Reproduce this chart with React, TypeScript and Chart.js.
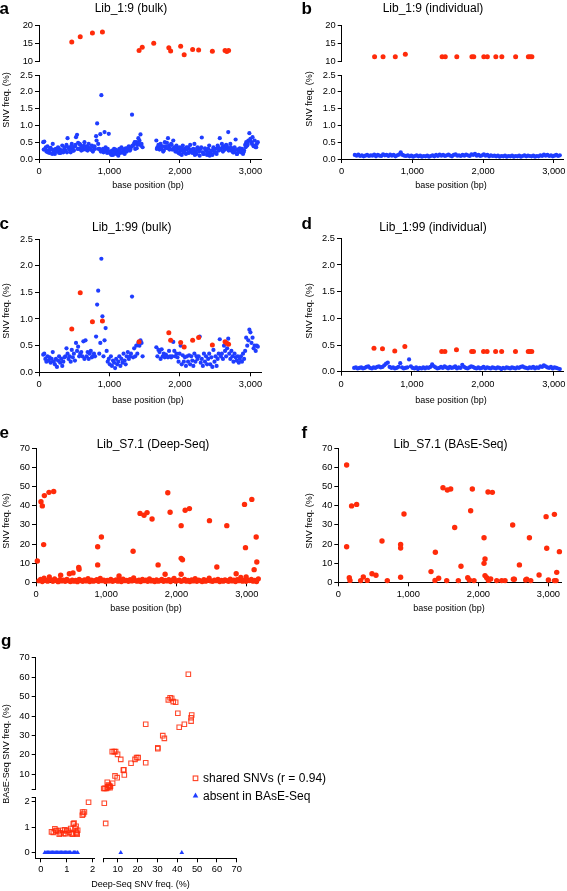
import React, { useEffect, useRef } from "react";
import { Chart, registerables } from "chart.js";
Chart.register(...registerables);

const FONT = '"Liberation Sans", Arial, Helvetica, sans-serif';
const RED = "#ff2b0a";
const BLUE = "#1f3dff";
const TICK_SIZE = 9.3;

// ---------- panels a-d : library 1 ----------
const SNV_POS = [465, 585, 758, 900, 1420, 1465, 1628, 1842, 1868, 2010, 2060, 2180, 2265, 2460, 2640, 2665, 2690];
const A_RED = [15.5, 16.9, 18.0, 18.25, 13.1, 14.0, 15.1, 13.9, 13.0, 14.3, 11.9, 13.4, 13.25, 12.9, 13.1, 12.8, 13.1];
const B_RED = [11.4, 11.4, 11.4, 12.1, 11.4, 11.4, 11.4, 11.4, 11.4, 11.4, 11.4, 11.4, 11.4, 11.4, 11.4, 11.4, 11.4];
const C_RED = [0.81, 1.49, 0.95, 0.96, 0.575, null, null, 0.74, 0.6, 0.56, 0.475, 0.6, 0.655, 0.51, 0.575, 0.545, 0.525];
const D_RED = [0.44, 0.43, 0.39, 0.47, 0.38, 0.38, 0.41, 0.38, 0.38, 0.38, 0.38, 0.38, 0.38, 0.38, 0.38, 0.38, 0.38];

const BULK_POS = [
  60, 75, 90, 105, 120, 135, 150, 165, 180, 195,
  210, 225, 240, 255, 270, 285, 300, 315, 330, 345,
  360, 375, 390, 405, 420, 435, 450, 465, 480, 495,
  510, 525, 540, 555, 570, 585, 600, 615, 630, 645,
  660, 675, 690, 705, 720, 735, 750, 765, 780, 795,
  810, 825, 840, 855, 870, 885, 900, 915, 930, 945,
  960, 975, 990, 1005, 1020, 1035, 1050, 1065, 1080, 1095,
  1110, 1125, 1140, 1155, 1170, 1185, 1200, 1215, 1230, 1245,
  1260, 1275, 1290, 1305, 1320, 1335, 1350, 1365, 1380, 1395,
  1410, 1425, 1440, 1455, 1470,
  1665, 1680, 1695, 1710, 1725, 1740, 1755, 1770, 1785, 1800,
  1815, 1830, 1845, 1860, 1875, 1890, 1905, 1920, 1935, 1950,
  1965, 1980, 1995, 2010, 2025, 2040, 2055, 2070, 2085, 2100,
  2115, 2130, 2145, 2160, 2175, 2190, 2205, 2220, 2235, 2250,
  2265, 2280, 2295, 2310, 2325, 2340, 2355, 2370, 2385, 2400,
  2415, 2430, 2445, 2460, 2475, 2490, 2505, 2520, 2535, 2550,
  2565, 2580, 2595, 2610, 2625, 2640, 2655, 2670, 2685, 2700,
  2715, 2730, 2745, 2760, 2775, 2790, 2805, 2820, 2835, 2850,
  2865, 2880, 2895, 2910, 2925, 2940, 2955, 2970, 2985, 3000,
  3015, 3030, 3045, 3060, 3075, 3090, 3105,
];
const A_BLUE = [
  0.5, 0.52, 0.3, 0.22, 0.38, 0.25, 0.18, 0.33, 0.28, 0.45,
  0.2, 0.15, 0.3, 0.25, 0.35, 0.18, 0.28, 0.22, 0.4, 0.2,
  0.3, 0.25, 0.42, 0.62, 0.35, 0.28, 0.2, 0.45, 0.3, 0.25,
  0.38, 0.65, 0.72, 0.48, 0.3, 0.42, 0.25, 0.35, 0.28, 0.5,
  0.3, 0.38, 0.25, 0.45, 0.32, 0.28, 0.4, 0.22, 0.35, 0.3,
  0.68, 1.06, 0.45, 0.3, 0.74, 1.9, 0.25, 0.2, 0.8, 0.35,
  0.22, 0.3, 0.75, 0.18, 0.15, 0.25, 0.12, 0.3, 0.2, 0.15,
  0.25, 0.1, 0.3, 0.18, 0.35, 0.2, 0.28, 0.15, 0.32, 0.22,
  0.3, 0.38, 0.25, 0.35, 1.32, 0.4, 0.45, 0.3, 0.5, 0.42,
  0.62, 0.55, 0.73, 0.45, 0.35,
  0.55, 0.35, 0.42, 0.28, 0.45, 0.3, 0.38, 0.25, 0.5, 0.33,
  0.48, 0.62, 0.4, 0.3, 0.45, 0.28, 0.55, 0.35, 0.22, 0.4,
  0.3, 0.18, 0.35, 0.25, 0.12, 0.4, 0.2, 0.3, 0.15, 0.28,
  0.35, 0.2, 0.42, 0.25, 0.18, 0.3, 0.45, 0.22, 0.15, 0.35,
  0.28, 0.1, 0.3, 0.64, 0.2, 0.15, 0.32, 0.25, 0.12, 0.3,
  0.4, 0.18, 0.25, 0.12, 0.35, 0.2, 0.3, 0.15, 0.4, 0.25,
  0.62, 0.3, 0.45, 0.22, 0.38, 0.28, 0.42, 0.35, 0.8, 0.3,
  0.45, 0.25, 0.3, 0.2, 0.35, 0.58, 0.15, 0.28, 0.22, 0.32,
  0.2, 0.3, 0.15, 0.25, 0.42, 0.5, 0.4, 0.55, 0.77, 0.6,
  0.5, 0.65, 0.38, 0.55, 0.35, 0.45, 0.5,
];
// extra, in-between positions of the denser 1:9 bulk library
const A_EXTRA_POS = [
  67, 97, 127, 157, 187, 217, 247, 277, 307, 337,
  367, 397, 427, 457, 487, 517, 547, 577, 607, 637,
  667, 697, 727, 757, 787, 817, 847, 877, 907, 937,
  967, 997, 1027, 1057, 1087, 1117, 1147, 1177, 1207, 1237,
  1267, 1297, 1327, 1357, 1387, 1417, 1447,
  1672, 1702, 1732, 1762, 1792, 1822, 1852, 1882, 1912, 1942,
  1972, 2002, 2032, 2062, 2092, 2122, 2152, 2182, 2212, 2242,
  2272, 2302, 2332, 2362, 2392, 2422, 2452, 2482, 2512, 2542,
  2572, 2602, 2632, 2662, 2692, 2722, 2752, 2782, 2812, 2842,
  2872, 2902, 2932, 2962, 2992, 3022, 3052, 3082,
];
const A_EXTRA_VAL = [
  0.28, 0.35, 0.2, 0.3, 0.15, 0.28, 0.22, 0.32, 0.18, 0.25,
  0.35, 0.2, 0.3, 0.38, 0.25, 0.42, 0.3, 0.45, 0.35, 0.4,
  0.28, 0.35, 0.3, 0.25, 0.38, 0.55, 0.3, 0.22, 0.3, 0.25,
  0.18, 0.22, 0.12, 0.2, 0.28, 0.15, 0.22, 0.3, 0.18, 0.25,
  0.35, 0.28, 0.4, 0.5, 0.32, 0.45, 0.4,
  0.3, 0.4, 0.35, 0.22, 0.38, 0.32, 0.28, 0.42, 0.3, 0.25,
  0.2, 0.15, 0.3, 0.22, 0.35, 0.18, 0.28, 0.25, 0.12, 0.3,
  0.22, 0.35, 0.15, 0.28, 0.2, 0.1, 0.25, 0.3, 0.18, 0.35,
  0.28, 0.35, 0.3, 0.4, 0.25, 0.35, 0.2, 0.25, 0.15, 0.3,
  0.25, 0.2, 0.35, 0.45, 0.55, 0.45, 0.4, 0.35,
];
const C_BLUE = [
  0.33, 0.35, 0.25, 0.2, 0.3, 0.22, 0.28, 0.18, 0.25, 0.38,
  0.2, 0.15, 0.25, 0.1, 0.22, 0.3, 0.18, 0.25, 0.12, 0.2,
  0.28, 0.3, 0.45, 0.35, 0.25, 0.3, 0.2, 0.42, 0.28, 0.35,
  0.22, 0.55, 0.4, 0.48, 0.3, 0.35, 0.38, 0.3, 0.58, 0.25,
  0.6, 0.3, 0.38, 0.25, 0.35, 0.4, 0.28, 0.3, 0.35, 0.3,
  0.67, 1.27, 1.53, 0.35, 0.55, 2.13, 1.05, 0.3, 0.6, 0.83,
  0.4, 0.2, 0.25, 0.15, 0.3, 0.12, 0.22, 0.18, 0.08, 0.25,
  0.15, 0.2, 0.3, 0.12, 0.25, 0.18, 0.35, 0.22, 0.15, 0.3,
  0.38, 0.25, 0.3, 0.35, 1.42, 0.28, 0.45, 0.3, 0.5, 0.35,
  0.55, 0.5, 0.6, 0.55, 0.3,
  0.47, 0.3, 0.42, 0.38, 0.25, 0.43, 0.3, 0.35, 0.28, 0.33,
  0.3, 0.28, 0.4, 0.3, 0.28, 0.3, 0.57, 0.4, 0.3, 0.35,
  0.28, 0.2, 0.35, 0.5, 0.15, 0.32, 0.2, 0.28, 0.12, 0.3,
  0.2, 0.32, 0.15, 0.3, 0.22, 0.12, 0.35, 0.2, 0.3, 0.25,
  0.3, 0.67, 0.18, 0.25, 0.12, 0.35, 0.2, 0.3, 0.15, 0.25,
  0.35, 0.15, 0.28, 0.1, 0.42, 0.2, 0.3, 0.12, 0.25, 0.35,
  0.62, 0.3, 0.35, 0.25, 0.5, 0.4, 0.3, 0.45, 0.63, 0.35,
  0.25, 0.4, 0.3, 0.2, 0.35, 0.28, 0.22, 0.3, 0.18, 0.25,
  0.3, 0.2, 0.35, 0.25, 0.4, 0.65, 0.5, 0.6, 0.8, 0.75,
  0.55, 0.65, 0.45, 0.5, 0.4, 0.5, 0.48,
];

const IND_POS = [
  185, 210, 235, 260, 285, 310, 335, 360, 385, 410,
  435, 460, 485, 510, 535, 560, 585, 610, 635, 660,
  685, 710, 735, 760, 785, 810, 835, 860, 885, 910,
  935, 960, 985, 1010, 1035, 1060, 1085, 1110, 1135, 1160,
  1185, 1210, 1235, 1260, 1285, 1310, 1335, 1360, 1385, 1410,
  1435, 1460, 1485, 1510, 1535, 1560, 1585, 1610, 1635, 1660,
  1685, 1710, 1735, 1760, 1785, 1810, 1835, 1860, 1885, 1910,
  1935, 1960, 1985, 2010, 2035, 2060, 2085, 2110, 2135, 2160,
  2185, 2210, 2235, 2260, 2285, 2310, 2335, 2360, 2385, 2410,
  2435, 2460, 2485, 2510, 2535, 2560, 2585, 2610, 2635, 2660,
  2685, 2710, 2735, 2760, 2785, 2810, 2835, 2860, 2885, 2910,
  2935, 2960, 2985, 3010, 3035, 3060, 3085,
];
const B_BLUE = [
  0.12, 0.1, 0.13, 0.09, 0.11, 0.08, 0.1, 0.12, 0.09, 0.11,
  0.1, 0.13, 0.08, 0.12, 0.1, 0.09, 0.14, 0.11, 0.12, 0.09,
  0.13, 0.1, 0.12, 0.08, 0.11, 0.13, 0.2, 0.12, 0.1, 0.09,
  0.11, 0.08, 0.1, 0.07, 0.09, 0.11, 0.08, 0.1, 0.07, 0.09,
  0.08, 0.1, 0.07, 0.09, 0.11, 0.08, 0.12, 0.09, 0.13, 0.1,
  0.12, 0.09, 0.11, 0.13, 0.1, 0.08, 0.12, 0.14, 0.1, 0.11,
  0.09, 0.12, 0.1, 0.13, 0.11, 0.09, 0.14, 0.12, 0.15, 0.1,
  0.12, 0.09, 0.11, 0.14, 0.1, 0.12, 0.08, 0.11, 0.09, 0.1,
  0.08, 0.1, 0.07, 0.09, 0.08, 0.1, 0.07, 0.09, 0.08, 0.1,
  0.07, 0.09, 0.08, 0.1, 0.07, 0.09, 0.11, 0.08, 0.1, 0.09,
  0.08, 0.1, 0.07, 0.09, 0.08, 0.11, 0.09, 0.13, 0.1, 0.12,
  0.09, 0.11, 0.08, 0.1, 0.12, 0.09, 0.11,
];
const D_BLUE = [
  0.07, 0.08, 0.06, 0.07, 0.08, 0.06, 0.07, 0.09, 0.1, 0.07,
  0.06, 0.08, 0.07, 0.09, 0.1, 0.08, 0.09, 0.12, 0.15, 0.17,
  0.09, 0.07, 0.08, 0.06, 0.07, 0.09, 0.16, 0.08, 0.06, 0.07,
  0.08, 0.23, 0.1, 0.07, 0.06, 0.08, 0.05, 0.07, 0.06, 0.08,
  0.06, 0.08, 0.07, 0.09, 0.14, 0.1, 0.08, 0.06, 0.07, 0.09,
  0.07, 0.1, 0.08, 0.06, 0.09, 0.07, 0.08, 0.1, 0.06, 0.08,
  0.07, 0.13, 0.09, 0.07, 0.06, 0.08, 0.1, 0.09, 0.07, 0.06,
  0.08, 0.06, 0.07, 0.09, 0.06, 0.08, 0.07, 0.06, 0.08, 0.07,
  0.06, 0.08, 0.07, 0.05, 0.07, 0.06, 0.08, 0.07, 0.06, 0.08,
  0.07, 0.06, 0.08, 0.07, 0.09, 0.1, 0.08, 0.07, 0.06, 0.08,
  0.07, 0.09, 0.06, 0.08, 0.07, 0.1, 0.09, 0.12, 0.1, 0.08,
  0.07, 0.09, 0.06, 0.08, 0.07, 0.06, 0.05,
];

// ---------- panels e-f : Lib_S7.1 ----------
const E_HIGH_POS = [19, 71, 90, 109, 119, 185, 252, 351, 475, 527, 608, 613, 878, 878, 931, 1182, 1382, 1481, 1538, 1581, 1652, 1738, 1838, 1876, 1909, 2066, 2066, 2085, 2066, 2123, 2184, 2469, 2574, 2716, 2849, 2968, 2982, 2991, 3072, 3105, 3134, 3143];
const E_HIGH_VAL = [11.1, 42.1, 39.9, 19.7, 45.3, 47, 47.4, 3.7, 4.5, 4.9, 7.8, 6.8, 18.6, 9.1, 23.7, 3.3, 16.2, 36, 35, 36.4, 33.1, 9.1, 4.2, 46.8, 36.6, 29.6, 12.5, 11.8, 4.2, 37.6, 38.5, 32.2, 8, 29.6, 4.5, 40.7, 18.1, 2.8, 43.3, 6.6, 23.7, 10.6];
const E_BASE_POS = [
  40, 65, 90, 115, 140, 165, 190, 215, 240, 265,
  290, 315, 340, 365, 390, 415, 440, 465, 490, 515,
  540, 565, 590, 615, 640, 665, 690, 715, 740, 765,
  790, 815, 840, 865, 890, 915, 940, 965, 990, 1015,
  1040, 1065, 1090, 1115, 1140, 1165, 1190, 1215, 1240, 1265,
  1290, 1315, 1340, 1365, 1390, 1415, 1440, 1465, 1490, 1515,
  1540, 1565, 1590, 1615, 1640, 1665, 1690, 1715, 1740, 1765,
  1790, 1815, 1840, 1865, 1890, 1915, 1940, 1965, 1990, 2015,
  2040, 2065, 2090, 2115, 2140, 2165, 2190, 2215, 2240, 2265,
  2290, 2315, 2340, 2365, 2390, 2415, 2440, 2465, 2490, 2515,
  2540, 2565, 2590, 2615, 2640, 2665, 2690, 2715, 2740, 2765,
  2790, 2815, 2840, 2865, 2890, 2915, 2940, 2965, 2990, 3015,
  3040, 3065, 3090, 3115, 3140, 3165,
];
const E_BASE_VAL = [
  0.8, 1.5, 0.4, 2.2, 1.0, 0.6, 2.8, 1.2, 0.5, 1.8,
  0.9, 0.3, 1.4, 0.7, 1.1, 0.5, 1.6, 0.8, 0.4, 1.2,
  0.6, 1.0, 0.3, 1.5, 0.9, 0.5, 1.3, 0.7, 1.9, 0.4,
  1.1, 0.6, 0.9, 1.4, 0.5, 2.0, 0.8, 1.2, 0.4, 1.0,
  0.7, 1.5, 0.5, 0.9, 1.3, 0.6, 1.1, 0.4, 1.7, 0.8,
  1.0, 0.5, 1.4, 0.7, 2.3, 0.9, 0.6, 1.2, 0.4, 1.5,
  0.8, 1.1, 0.5, 1.8, 0.7, 1.0, 0.4, 1.3, 0.6, 0.9,
  1.6, 0.5, 1.0, 0.7, 1.4, 0.4, 1.1, 2.0, 0.6, 0.9,
  1.2, 0.5, 0.8, 1.5, 0.6, 1.0, 0.4, 1.3, 0.7, 1.9,
  0.5, 1.1, 0.8, 0.4, 1.4, 0.6, 1.0, 2.2, 0.7, 0.5,
  1.2, 0.8, 1.6, 0.4, 1.0, 0.6, 1.3, 0.9, 0.5, 1.7,
  0.7, 1.1, 0.4, 1.4, 0.8, 2.6, 0.6, 1.0, 0.5, 1.2,
  0.9, 1.5, 0.6, 1.0, 0.4, 1.8,
];
const F_POS = [119, 119, 157, 167, 190, 262, 319, 357, 414, 481, 538, 624, 700, 890, 890, 890, 938, 1324, 1386, 1381, 1433, 1495, 1557, 1605, 1548, 1662, 1752, 1714, 1848, 1871, 1890, 1914, 1938, 2081, 2081, 2095, 2095, 2119, 2138, 2200, 2143, 2176, 2262, 2333, 2381, 2490, 2500, 2514, 2586, 2676, 2690, 2729, 2748, 2867, 2967, 2976, 3000, 3086, 3086, 3110, 3119, 3157];
const F_VAL = [61.3, 18.6, 2.4, 1, 39.9, 40.7, 0.9, 2.8, 1, 4.5, 3.7, 21.6, 0.9, 19.8, 17.9, 2.6, 35.7, 5.6, 15.7, 1, 2.1, 49.4, 48.2, 48.7, 0.9, 28.6, 8.4, 0.9, 2.4, 1.2, 37.4, 48.7, 0.9, 23.3, 9.9, 12.2, 3.5, 2.4, 47.2, 47, 1, 1.7, 0.9, 0.9, 0.9, 29.9, 1.6, 1.6, 9.1, 1.2, 1.6, 23.3, 0.9, 3.8, 34.3, 17.8, 1.2, 35.5, 0.9, 0.9, 5.2, 16];

// ---------- panel g ----------
const G_SHARED_DEEP = [
  0.41, 0.54, 0.57, 0.67, 0.71, 0.83, 0.96, 0.99, 1.05, 1.15, 1.22, 1.28, 1.25, 1.36, 1.38, 1.42, 1.4, 1.36, 1.6, 1.61, 1.68, 1.64, 1.84, 0.48, 0.6, 0.75, 0.88, 1.1, 1.18, 1.32, 0.92,
  3.2, 3.9,
  45.6, 35.5, 36.4, 37.2, 38, 39.2, 40.3, 41, 43.6, 47.3, 47, 47, 24.1, 32.7, 33.5, 30.2, 30.2, 24.1, 19.5, 20.3, 18.7, 16.7, 12.8, 13.1, 13.3, 11.5, 9.9, 8.2, 7.2, 8.9, 9.7, 8.6, 7.4, 4.7, 5.2, 5.6, 6.1, 3.5, 4.3, 2.9, 5, 5.8, 6.3,
];
const G_SHARED_BASE = [
  0.82, 0.94, 0.85, 0.85, 0.73, 0.88, 0.75, 0.85, 0.88, 0.95, 0.73, 1.16, 1.13, 1.04, 0.77, 0.88, 0.73, 0.82, 1.47, 1.6, 1.6, 1.52, 1.98, 0.8, 0.88, 0.78, 0.75, 0.8, 0.75, 0.95, 0.9,
  1.94, 1.15,
  61.5, 48.3, 49.4, 49.1, 47.4, 47.1, 41.4, 34.2, 35.8, 40.5, 39.1, 37.4, 35.8, 29.9, 28.5, 23.7, 23.2, 16, 18.6, 18.6, 17.7, 15.7, 12.2, 12.4, 9.7, 17.7, 20.3, 21.7, 21.7, 21.7, 8.3, 9.2, 5.4, 5.9, 4.5, 4.3, 3.1, 2.8, 2.8, 2.7, 3.3, 3.6, 3.9,
];
const G_ABSENT_DEEP = [0.15, 0.2, 0.25, 0.3, 0.35, 0.4, 0.45, 0.5, 0.55, 0.6, 0.65, 0.7, 0.75, 0.8, 0.85, 0.9, 0.95, 1.0, 1.05, 1.1, 1.15, 1.25, 1.3, 1.35, 1.42, 11.5, 42.3];
const G_ABSENT_BASE = [0, 0, 0, 0, 0, 0, 0, 0, 0, 0, 0, 0, 0, 0, 0, 0, 0, 0, 0, 0, 0, 0, 0, 0, 0, 0, 0];

const POS_TICKS = [0, 1000, 2000, 3000];
const LOW_TICKS = [0, 0.5, 1, 1.5, 2, 2.5];
const HIGH_TICKS = [10, 15, 20];
const PCT_TICKS = [0, 10, 20, 30, 40, 50, 60, 70];
const G_SMALL_TICKS = [0, 1, 2];
const G_BIG_TICKS = [10, 20, 30, 40, 50, 60, 70];

// ranges of the broken axes in panel g
const GX_L: [number, number] = [-0.2, 2.05];
const GX_R: [number, number] = [2.7, 70];
const GY_L: [number, number] = [-0.22, 2.16];
const GY_U: [number, number] = [2.47, 70];

// ---------- helpers ----------
type Pt = { x: number; y: number };
const toPts = (xs: number[], ys: (number | null)[]): Pt[] =>
  xs.map((x, i) => ({ x, y: ys[i] as number })).filter((p) => p.y !== null && p.y !== undefined);

const comma = (v: number) => v.toLocaleString("en-US");
const fixed1 = (v: number) => v.toFixed(1);
const int = (v: number) => String(v);
const noBreak = (v: number) => (Number.isInteger(v) ? String(v) : "");

const dots = (data: Pt[], color: string, r: number) => ({
  type: "scatter",
  data,
  showLine: false,
  pointStyle: "circle",
  pointRadius: r,
  pointHoverRadius: r,
  backgroundColor: color,
  borderColor: color,
  borderWidth: 0,
  clip: false,
});

type Axis = { min: number; max: number; ticks?: number[]; fmt?: (v: number) => string };
type Spec = { key: string; area: [number, number, number, number]; x: Axis; y: Axis; datasets: any[]; xPad?: number };

const PAD_L = 45, PAD_R = 25, PAD_T = 12, PAD_B = 24;

function SubChart({ spec }: { spec: Spec }) {
  const ref = useRef<HTMLCanvasElement | null>(null);
  const [l, t, r, b] = spec.area;
  const cl = Math.floor(l) - PAD_L;
  const ct = Math.floor(t) - PAD_T;
  const W = Math.ceil(r) + PAD_R - cl;
  const H = Math.ceil(b) + PAD_B - ct;
  useEffect(() => {
    const left = l - cl, top = t - ct, right = W - (r - cl), bottom = H - (b - ct);
    const showX = !!spec.x.ticks, showY = !!spec.y.ticks;
    const axis = (ax: Axis, isX: boolean): any => {
      const o: any = {
        type: "linear",
        min: ax.min,
        max: ax.max,
        display: !!ax.ticks,
        ticks: {
          callback: (v: any) => (ax.fmt ? ax.fmt(Number(v)) : String(v)),
          autoSkip: false,
          maxRotation: 0,
          minRotation: 0,
          padding: isX ? spec.xPad ?? 3 : 2,
          color: "#000",
          font: { size: TICK_SIZE, family: FONT },
        },
        grid: { display: true, drawOnChartArea: false, drawTicks: true, tickLength: 4, color: "#000", lineWidth: 1 },
        border: { display: true, color: "#000", width: 1 },
      };
      if (ax.ticks) {
        const tk = ax.ticks;
        o.afterBuildTicks = (s: any) => {
          s.ticks = tk.map((v) => ({ value: v }));
        };
        o.afterFit = (s: any) => {
          if (isX) s.height = bottom;
          else s.width = left;
        };
      }
      return o;
    };
    const chart = new Chart(ref.current as HTMLCanvasElement, {
      type: "scatter",
      data: { datasets: spec.datasets },
      options: {
        responsive: false,
        maintainAspectRatio: false,
        animation: false,
        events: [],
        layout: {
          autoPadding: false,
          padding: { left: showY ? 0 : left, right, top, bottom: showX ? 0 : bottom },
        },
        plugins: { legend: { display: false }, tooltip: { enabled: false }, title: { display: false } },
        scales: { x: axis(spec.x, true), y: axis(spec.y, false) },
      },
    } as any);
    return () => chart.destroy();
  }, []);
  return (
    <canvas
      ref={ref}
      width={W}
      height={H}
      style={{ position: "absolute", left: cl, top: ct, width: W, height: H }}
    />
  );
}

type TProps = { x: number; y: number; s: string; size?: number; bold?: boolean; rot?: boolean; left?: boolean };
function T({ x, y, s, size = 9, bold = false, rot = false, left = false }: TProps) {
  const tr = left ? "translate(0,-50%)" : rot ? "translate(-50%,-50%) rotate(-90deg)" : "translate(-50%,-50%)";
  return (
    <div
      style={{
        position: "absolute",
        left: x,
        top: y,
        transform: tr,
        fontSize: size,
        lineHeight: `${size}px`,
        fontFamily: FONT,
        fontWeight: bold ? "bold" : "normal",
        color: "#000",
        whiteSpace: "nowrap",
      }}
    >
      {s}
    </div>
  );
}

export default function App() {
  const aRed = toPts(SNV_POS, A_RED);
  const bRed = toPts(SNV_POS, B_RED);
  const cRed = toPts(SNV_POS, C_RED);
  const dRed = toPts(SNV_POS, D_RED);
  const aBlue = toPts(BULK_POS, A_BLUE).concat(toPts(A_EXTRA_POS, A_EXTRA_VAL));
  const cBlue = toPts(BULK_POS, C_BLUE);
  const bBlue = toPts(IND_POS, B_BLUE);
  const dBlue = toPts(IND_POS, D_BLUE);
  const eHigh = toPts(E_HIGH_POS, E_HIGH_VAL);
  const eBase = toPts(E_BASE_POS, E_BASE_VAL);
  const fPts = toPts(F_POS, F_VAL);
  const shared = toPts(G_SHARED_DEEP, G_SHARED_BASE);
  const absent = toPts(G_ABSENT_DEEP, G_ABSENT_BASE);
  const inBox = (p: Pt, xr: [number, number], yr: [number, number]) =>
    p.x >= xr[0] && p.x <= xr[1] && p.y >= yr[0] && p.y <= yr[1];

  const squares = (data: Pt[]) => ({
    type: "scatter",
    data,
    showLine: false,
    pointStyle: "rect",
    pointRadius: 3.2,
    pointHoverRadius: 3.2,
    backgroundColor: "rgba(0,0,0,0)",
    borderColor: "rgba(255,43,10,0.85)",
    borderWidth: 1.1,
    clip: false,
  });
  const tris = (data: Pt[]) => ({
    type: "scatter",
    data,
    showLine: false,
    pointStyle: "triangle",
    pointRadius: 2.7,
    pointHoverRadius: 2.7,
    backgroundColor: BLUE,
    borderColor: BLUE,
    borderWidth: 0,
    clip: false,
  });
  const gDs = (xr: [number, number], yr: [number, number]) => [
    squares(shared.filter((p) => inBox(p, xr, yr))),
    tris(absent.filter((p) => inBox(p, xr, yr))),
  ];

  const specs: Spec[] = [
    { key: "aTop", area: [39, 25.7, 261, 61.7], x: { min: 0, max: 3150 }, y: { min: 10, max: 20, ticks: HIGH_TICKS, fmt: int }, datasets: [dots(aRed, RED, 2.5)] },
    { key: "aBot", area: [39, 75, 261, 159], x: { min: 0, max: 3150, ticks: POS_TICKS, fmt: comma }, y: { min: 0, max: 2.5, ticks: LOW_TICKS, fmt: fixed1 }, datasets: [dots(aBlue, BLUE, 2.1)] },
    { key: "bTop", area: [341.7, 25.7, 563, 61.7], x: { min: 0, max: 3130 }, y: { min: 10, max: 20, ticks: HIGH_TICKS, fmt: int }, datasets: [dots(bRed, RED, 2.5)] },
    { key: "bBot", area: [341.7, 75, 563, 159], x: { min: 0, max: 3130, ticks: POS_TICKS, fmt: comma }, y: { min: 0, max: 2.5, ticks: LOW_TICKS, fmt: fixed1 }, datasets: [dots(bBlue, BLUE, 2.1)] },
    { key: "c", area: [39, 239, 261, 372.3], x: { min: 0, max: 3150, ticks: POS_TICKS, fmt: comma }, y: { min: 0, max: 2.5, ticks: LOW_TICKS, fmt: fixed1 }, datasets: [dots(cRed, RED, 2.5), dots(cBlue, BLUE, 2.1)] },
    { key: "d", area: [341, 238.3, 563, 371.7], x: { min: 0, max: 3130, ticks: POS_TICKS, fmt: comma }, y: { min: 0, max: 2.5, ticks: LOW_TICKS, fmt: fixed1 }, datasets: [dots(dRed, RED, 2.5), dots(dBlue, BLUE, 2.1)] },
    { key: "e", area: [36, 448.3, 258, 582.3], x: { min: 0, max: 3160, ticks: POS_TICKS, fmt: comma }, y: { min: 0, max: 70, ticks: PCT_TICKS, fmt: int }, datasets: [dots(eHigh, RED, 2.7), dots(eBase, RED, 2.6)] },
    { key: "f", area: [338.3, 448.3, 561.7, 582.3], x: { min: 0, max: 3190, ticks: POS_TICKS, fmt: comma }, y: { min: 0, max: 70, ticks: PCT_TICKS, fmt: int }, datasets: [dots(fPts, RED, 2.7)] },
    { key: "gUL", area: [35.7, 657.7, 94, 789], x: { min: GX_L[0], max: GX_L[1] }, y: { min: GY_U[0], max: GY_U[1], ticks: [GY_U[0], ...G_BIG_TICKS], fmt: noBreak }, datasets: gDs(GX_L, GY_U) },
    { key: "gUR", area: [103.3, 657.7, 236.7, 789], x: { min: GX_R[0], max: GX_R[1] }, y: { min: GY_U[0], max: GY_U[1] }, datasets: gDs(GX_R, GY_U) },
    { key: "gLL", area: [35.7, 797.7, 94, 858.3], x: { min: GX_L[0], max: GX_L[1], ticks: G_SMALL_TICKS, fmt: int }, y: { min: GY_L[0], max: GY_L[1], ticks: [...G_SMALL_TICKS, GY_L[1]], fmt: noBreak }, datasets: gDs(GX_L, GY_L), xPad: 2 },
    { key: "gLR", area: [103.3, 797.7, 236.7, 858.3], x: { min: GX_R[0], max: GX_R[1], ticks: [GX_R[0], ...G_BIG_TICKS], fmt: noBreak }, y: { min: GY_L[0], max: GY_L[1] }, datasets: gDs(GX_R, GY_L), xPad: 2 },
  ];

  return (
    <div style={{ position: "absolute", left: 0, top: 0, width: 567, height: 891, background: "#fff", overflow: "hidden" }}>
      {specs.map((s) => (
        <SubChart key={s.key} spec={s} />
      ))}
      {/* panel letters */}
      <T x={-0.5} y={7.6} s="a" size={17} bold left />
      <T x={301.5} y={7.6} s="b" size={17} bold left />
      <T x={-0.5} y={222.6} s="c" size={17} bold left />
      <T x={301.5} y={222.6} s="d" size={17} bold left />
      <T x={-0.5} y={431.5} s="e" size={17} bold left />
      <T x={301.5} y={431.5} s="f" size={17} bold left />
      <T x={1} y={640} s="g" size={17} bold left />
      {/* titles */}
      <T x={131} y={8.3} s="Lib_1:9 (bulk)" size={12} />
      <T x={433} y={8.3} s="Lib_1:9 (individual)" size={12} />
      <T x={131.7} y={226.8} s="Lib_1:99 (bulk)" size={12} />
      <T x={433} y={226.8} s="Lib_1:99 (individual)" size={12} />
      <T x={153} y={443.5} s="Lib_S7.1 (Deep-Seq)" size={12} />
      <T x={450.5} y={443.5} s="Lib_S7.1 (BAsE-Seq)" size={12} />
      {/* y titles */}
      <T x={6} y={100} s="SNV freq. (%)" rot />
      <T x={309} y={99} s="SNV freq. (%)" rot />
      <T x={6} y={311} s="SNV freq. (%)" rot />
      <T x={309} y={311} s="SNV freq. (%)" rot />
      <T x={6} y={521} s="SNV freq. (%)" rot />
      <T x={309} y={521} s="SNV freq. (%)" rot />
      <T x={6} y={754} s="BAsE-Seq SNV freq. (%)" rot />
      {/* x titles */}
      <T x={148} y={185} s="base position (bp)" />
      <T x={451} y={185} s="base position (bp)" />
      <T x={148} y={400} s="base position (bp)" />
      <T x={451} y={400} s="base position (bp)" />
      <T x={146} y={608} s="base position (bp)" />
      <T x={449} y={608} s="base position (bp)" />
      <T x={140.5} y={884} s="Deep-Seq SNV freq. (%)" />
      {/* legend of g */}
      <svg style={{ position: "absolute", left: 190, top: 772, width: 12, height: 30 }} width={12} height={30}>
        <rect x={3.2} y={4} width={4.6} height={4.6} fill="none" stroke="rgba(255,43,10,0.9)" strokeWidth={1.1} />
        <polygon points="5.5,20.6 2.7,25.4 8.3,25.4" fill={BLUE} />
      </svg>
      <T x={203} y={778.3} s="shared SNVs (r = 0.94)" size={12} left />
      <T x={203} y={795.7} s="absent in BAsE-Seq" size={12} left />
    </div>
  );
}
